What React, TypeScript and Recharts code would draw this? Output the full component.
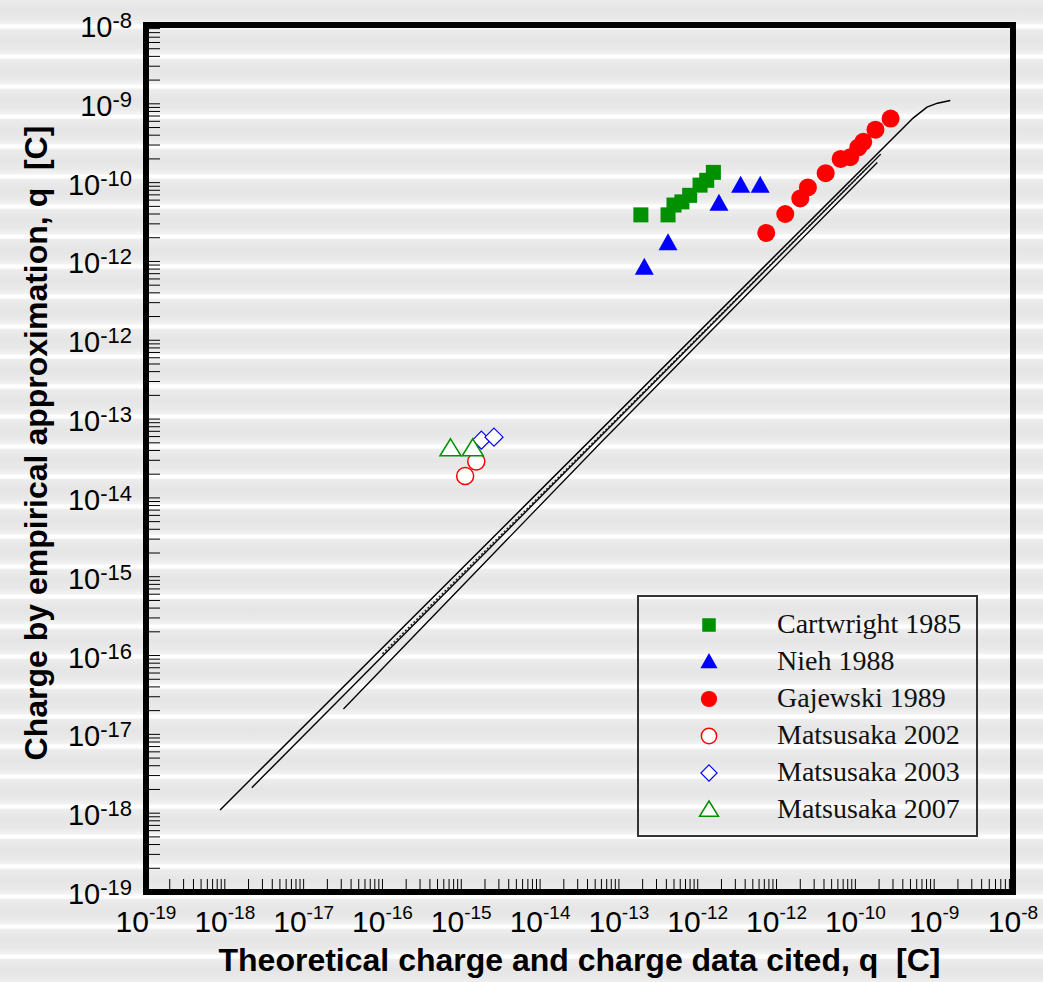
import { Legend, ReferenceArea, Scatter, ScatterChart, XAxis, YAxis } from 'recharts';

const W = 1043;
const H = 982;
const margin = { top: 25, right: 30, bottom: 90, left: 146 };
const plotBottom = H - margin.bottom;

const axisFont = '"Liberation Sans", Arial, Helvetica, sans-serif';
const legendFont = '"Liberation Serif", "Times New Roman", serif';

// decade exponents on both axes, and the exponent printed at each decade
const decades = [-19, -18, -17, -16, -15, -14, -13, -12, -11, -10, -9, -8];
const xTickLabels = ['-19', '-18', '-17', '-16', '-15', '-14', '-13', '-12', '-12', '-10', '-9', '-8'];
const yTickLabels = ['-19', '-18', '-17', '-16', '-15', '-14', '-13', '-12', '-12', '-10', '-9', '-8'];
const minorSteps = [2, 3, 4, 5, 6, 7, 8, 9];

const majorTicks = decades.map((e) => Number(`1e${e}`));
const allTicks = decades.flatMap((e) =>
  e === -8 ? [Number(`1e${e}`)] : [Number(`1e${e}`), ...minorSteps.map((k) => Number(`${k}e${e}`))],
);

// measured data, [theoretical q, empirical q]
const cartwright1985 = [
  [1.9e-13, 3.9e-11],
  [4.2e-13, 3.9e-11],
  [5.0e-13, 5.2e-11],
  [6.3e-13, 5.7e-11],
  [7.9e-13, 6.9e-11],
  [1.07e-12, 9.3e-11],
  [1.3e-12, 1.07e-10],
  [1.58e-12, 1.35e-10],
];
const nieh1988 = [
  [2.1e-13, 8.3e-12],
  [4.2e-13, 1.7e-11],
  [1.86e-12, 5.4e-11],
  [3.5e-12, 9.1e-11],
  [6.2e-12, 9.1e-11],
];
const gajewski1989 = [
  [7.4e-12, 2.3e-11],
  [1.29e-11, 4.0e-11],
  [2.0e-11, 6.3e-11],
  [2.5e-11, 8.7e-11],
  [4.2e-11, 1.32e-10],
  [6.5e-11, 2.0e-10],
  [8.6e-11, 2.1e-10],
  [1.09e-10, 2.8e-10],
  [1.26e-10, 3.3e-10],
  [1.8e-10, 4.7e-10],
  [2.8e-10, 6.5e-10],
];
const matsusaka2002 = [
  [1.12e-15, 1.9e-14],
  [1.55e-15, 2.9e-14],
];
const matsusaka2003 = [
  [1.8e-15, 5.4e-14],
  [2.6e-15, 5.9e-14],
];
const matsusaka2007 = [
  [7.3e-16, 4.2e-14],
  [1.4e-15, 4.2e-14],
];

// approximation curves
const curveUpper = [
  [8.7e-19, 1.1e-18],
  [5.4e-10, 6.6e-10],
  [8.1e-10, 9.1e-10],
  [1.1e-9, 1.02e-9],
  [1.6e-9, 1.1e-9],
];
const curveMiddle = [
  [2.2e-18, 2.1e-18],
  [2.1e-10, 2.3e-10],
];
const curveDotted = [
  [1.0e-16, 1.05e-16],
  [1.6e-10, 1.75e-10],
];
const curveLower = [
  [3.2e-17, 2.1e-17],
  [6.3e-14, 5.4e-14],
  [1.9e-10, 1.8e-10],
];

const seriesNames = [
  'Cartwright 1985',
  'Nieh 1988',
  'Gajewski 1989',
  'Matsusaka 2002',
  'Matsusaka 2003',
  'Matsusaka 2007',
];

const toPoints = (rows: number[][]) => rows.map(([x, y]) => ({ x, y }));

const GREEN = '#009000';
const BLUE = '#0000ff';
const RED = '#ff0000';

const markerShape = (kind: number, cx: number, cy: number, s = 1) => {
  switch (kind) {
    case 0:
      return <rect x={cx - 7.5 * s} y={cy - 7.5 * s} width={15 * s} height={15 * s} fill={GREEN} />;
    case 1:
      return (
        <polygon
          points={`${cx},${cy - 10 * s} ${cx + 9.5 * s},${cy + 7 * s} ${cx - 9.5 * s},${cy + 7 * s}`}
          fill={BLUE}
        />
      );
    case 2:
      return <circle cx={cx} cy={cy} r={9 * s} fill={RED} />;
    case 3:
      return <circle cx={cx} cy={cy} r={8.5 * s} fill="#fff" stroke={RED} strokeWidth={1.5} />;
    case 4:
      return (
        <polygon
          points={`${cx},${cy - 9 * s} ${cx + 9 * s},${cy} ${cx},${cy + 9 * s} ${cx - 9 * s},${cy}`}
          fill="#fff"
          stroke={BLUE}
          strokeWidth={1.2}
        />
      );
    default:
      return (
        <polygon
          points={`${cx},${cy - 10 * s} ${cx + 10.5 * s},${cy + 7 * s} ${cx - 10.5 * s},${cy + 7 * s}`}
          fill="#fff"
          stroke={GREEN}
          strokeWidth={1.5}
        />
      );
  }
};

const makeShape = (kind: number) => (props: any) => markerShape(kind, props.cx, props.cy);
const noShape = () => <g />;

const XTick = (props: any) => {
  const i = majorTicks.indexOf(props.payload.value);
  if (i < 0) return <g />;
  return (
    <text x={props.x} y={plotBottom + 40} textAnchor="middle" fontFamily={axisFont} fill="#000">
      <tspan fontSize={30}>10</tspan>
      <tspan fontSize={19} dy={-13}>
        {xTickLabels[i]}
      </tspan>
    </text>
  );
};

const YTick = (props: any) => {
  const i = majorTicks.indexOf(props.payload.value);
  if (i < 0) return <g />;
  return (
    <text x={margin.left - 14} y={props.y + 12} textAnchor="end" fontFamily={axisFont} fill="#000">
      <tspan fontSize={29}>10</tspan>
      <tspan fontSize={22} dy={-9}>
        {yTickLabels[i]}
      </tspan>
    </text>
  );
};

const LegendBox = () => (
  <div
    style={{
      width: 337,
      height: 238,
      border: '2px solid #333',
      position: 'relative',
    }}
  >
    {seriesNames.map((name, i) => (
      <div
        key={name}
        style={{ position: 'absolute', left: 0, top: 10 + i * 37, height: 36, width: 337 }}
      >
        <svg width={40} height={36} style={{ position: 'absolute', left: 50, top: 0 }}>
          {markerShape(i, 20, 18, 0.9)}
        </svg>
        <span
          style={{
            position: 'absolute',
            left: 138,
            top: 0,
            fontFamily: legendFont,
            fontSize: 28,
            lineHeight: '34px',
            color: '#111',
            whiteSpace: 'nowrap',
          }}
        >
          {name}
        </span>
      </div>
    ))}
  </div>
);

const stripes =
  'repeating-linear-gradient(180deg, #ececec 0px, #e5e5e5 10px, #eaeaea 19px, #f3f3f3 24px, #ffffff 25px, #ffffff 28px, #f1f1f1 29px, #ececec 30px)';

export default function App() {
  const measured = [cartwright1985, nieh1988, gajewski1989, matsusaka2002, matsusaka2003, matsusaka2007];
  return (
    <div style={{ position: 'absolute', left: 0, top: 0, width: W, height: H, background: stripes }}>
      <ScatterChart width={W} height={H} margin={margin}>
        <XAxis
          type="number"
          dataKey="x"
          scale="log"
          domain={[1e-19, 1e-8]}
          allowDataOverflow
          ticks={allTicks}
          interval={0}
          mirror
          tickSize={13}
          tickMargin={0}
          axisLine={false}
          tickLine={{ stroke: '#000', strokeWidth: 1 }}
          tick={<XTick />}
        />
        <YAxis
          type="number"
          dataKey="y"
          scale="log"
          domain={[1e-19, 1e-8]}
          allowDataOverflow
          ticks={allTicks}
          interval={0}
          mirror
          tickSize={14}
          tickMargin={0}
          axisLine={false}
          tickLine={{ stroke: '#000', strokeWidth: 1 }}
          tick={<YTick />}
        />
        <Scatter data={toPoints(curveUpper)} line={{ stroke: '#000', strokeWidth: 1.5 }} shape={noShape} isAnimationActive={false} />
        <Scatter data={toPoints(curveMiddle)} line={{ stroke: '#000', strokeWidth: 1.4 }} shape={noShape} isAnimationActive={false} />
        <Scatter
          data={toPoints(curveDotted)}
          line={{ stroke: '#222', strokeWidth: 1.5, strokeDasharray: '2 2' }}
          shape={noShape}
          isAnimationActive={false}
        />
        <Scatter data={toPoints(curveLower)} line={{ stroke: '#000', strokeWidth: 1.3 }} shape={noShape} isAnimationActive={false} />
        {measured.map((rows, i) => (
          <Scatter
            key={seriesNames[i]}
            name={seriesNames[i]}
            data={toPoints(rows)}
            shape={makeShape(i)}
            isAnimationActive={false}
          />
        ))}
        <ReferenceArea x1={1e-19} x2={1e-8} y1={1e-19} y2={1e-8} fill="none" stroke="#000" strokeWidth={6} />
        <Legend
          layout="vertical"
          align="center"
          verticalAlign="middle"
          content={<LegendBox />}
          wrapperStyle={{ position: 'absolute', left: 637, top: 595, width: 341, height: 242 }}
        />
        <text
          x={(margin.left + W - margin.right) / 2}
          y={971}
          textAnchor="middle"
          fontFamily={axisFont}
          fontWeight="bold"
          fontSize={32}
          fill="#000"
          style={{ whiteSpace: 'pre' }}
        >
          Theoretical charge and charge data cited, q  [C]
        </text>
        <text
          transform="translate(47, 443) rotate(-90)"
          textAnchor="middle"
          fontFamily={axisFont}
          fontWeight="bold"
          fontSize={32}
          fill="#000"
          style={{ whiteSpace: 'pre' }}
        >
          Charge by empirical approximation, q  [C]
        </text>
      </ScatterChart>
    </div>
  );
}
